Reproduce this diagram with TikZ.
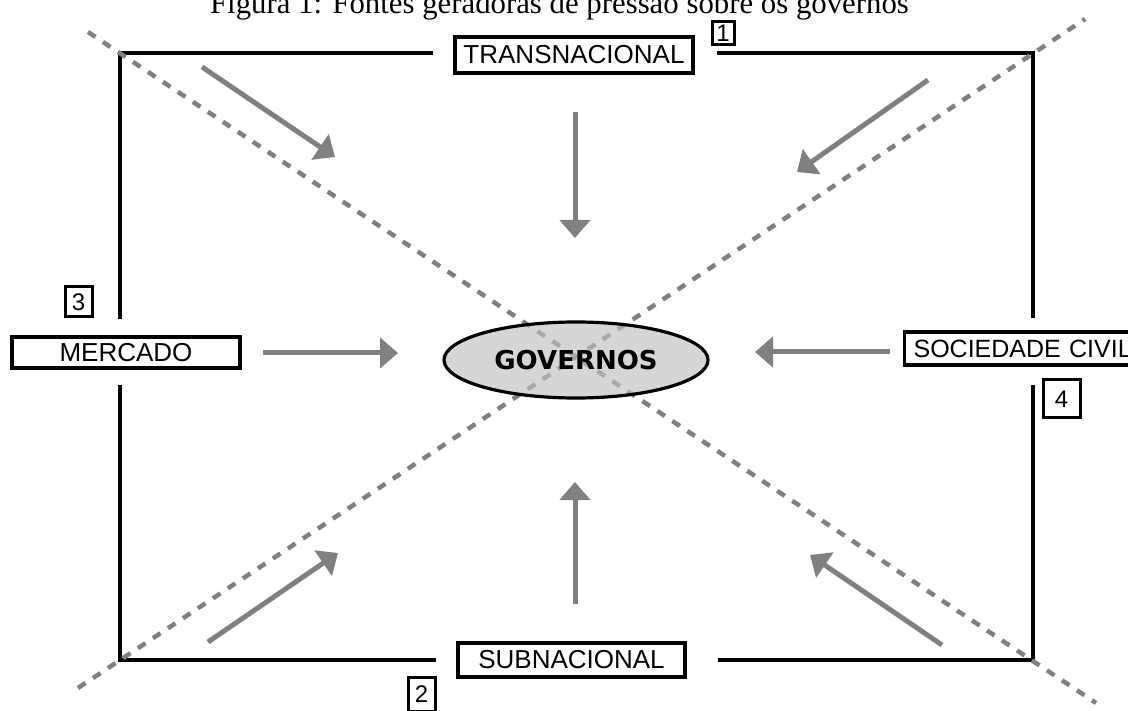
\documentclass[tikz,border=0pt]{standalone}
\usepackage{fontspec}
\setmainfont{Liberation Sans}
\newfontfamily\titlefont{Liberation Serif}
\newfontfamily\govfont{DejaVu Sans}
\usetikzlibrary{arrows.meta,shapes.geometric}
\definecolor{dgray}{RGB}{128,128,128}
\definecolor{agray}{RGB}{128,128,128}
\definecolor{efill}{RGB}{192,192,192}
\begin{document}
\begin{tikzpicture}[x=1pt,y=-1pt,
  frame/.style={line width=3.8pt, draw=black},
  diag/.style={line width=4.5pt, draw=dgray, dash pattern=on 9pt off 9pt},
  force/.style={line width=5pt, draw=agray, -{Triangle[length=18pt,width=30pt]}},
  lbl/.style={draw, line width=3.2pt, inner sep=0pt, fill=white, font=\fontsize{26}{26}\selectfont},
  num/.style={draw, line width=3pt, inner sep=0pt, fill=white, font=\fontsize{24}{24}\selectfont},
]
\useasboundingbox (0,0) rectangle (1128,711);
\clip (0,0) rectangle (1128,711);

% title (partly cut at the top)
\node[anchor=base, font=\titlefont\fontsize{30.8}{30.8}\selectfont, inner sep=0pt] (title) at (559.5,14) {Figura 1: Fontes geradoras de pressão sobre os governos};

% frame corners and gap ends
\coordinate (TL) at (120,53);
\coordinate (TR) at (1033,53);
\coordinate (BL) at (120,660);
\coordinate (BR) at (1033,660);
\coordinate (tA) at (433,53);
\coordinate (tB) at (717,53);
\coordinate (bA) at (436,660);
\coordinate (bB) at (718,660);
\coordinate (lA) at (120,319);
\coordinate (lB) at (120,385);
\coordinate (rA) at (1033,318);
\coordinate (rB) at (1033,385);

\draw[frame] (tA) -- (TL) -- (lA);
\draw[frame] (lB) -- (BL) -- (bA);
\draw[frame] (bB) -- (BR) -- (rB);
\draw[frame] (rA) -- (TR) -- (tB);

% dashed diagonals
\coordinate (d1s) at (88,32);
\coordinate (d1e) at (1096,703);
\coordinate (d2s) at (78,688);
\coordinate (d2e) at (1085,19);
\draw[diag] (d1s) -- (d1e);
\draw[diag] (d2s) -- (d2e);

% centre
\node[ellipse, draw, line width=3.2pt, fill=efill, fill opacity=0.65, text opacity=1,
      minimum width=264pt, minimum height=76pt, inner sep=0pt,
      font=\govfont\bfseries\fontsize{26}{26}\selectfont] (gov) at (576,360) {GOVERNOS};

% label boxes
\node[lbl, minimum width=238pt, minimum height=36pt] (trans) at (574,55) {TRANSNACIONAL};
\node[lbl, minimum width=227pt, minimum height=34pt] (sub) at (571.5,660) {SUBNACIONAL};
\node[lbl, minimum width=228pt, minimum height=31pt] (merc) at (126,352.5) {MERCADO};
\node[lbl, anchor=west, minimum width=224pt, minimum height=33pt, text width=215pt, inner xsep=9pt, align=left, font=\fontsize{25}{25}\selectfont] (soc) at (903,348.5) {\mbox{SOCIEDADE CIVIL}};

% number boxes
\node[num, minimum width=22pt, minimum height=23pt] (n1) at (723,33) {1};
\node[num, minimum width=27pt, minimum height=34pt] (n2) at (421.5,694) {2};
\node[num, minimum width=27pt, minimum height=30pt] (n3) at (78.5,302) {3};
\node[num, minimum width=37pt, minimum height=38pt] (n4) at (1061.5,399) {4};

% force arrows
\coordinate (aTs) at (575,112);  \coordinate (aTe) at (575,238);
\coordinate (aBs) at (575,604);  \coordinate (aBe) at (575,482);
\coordinate (aLs) at (263,353);  \coordinate (aLe) at (398,353);
\coordinate (aRs) at (890,352);  \coordinate (aRe) at (755,352);
\coordinate (aTLs) at (202,67);  \coordinate (aTLe) at (335,157);
\coordinate (aTRs) at (928,80);  \coordinate (aTRe) at (797,172);
\coordinate (aBLs) at (208,642); \coordinate (aBLe) at (338,553);
\coordinate (aBRs) at (942,645); \coordinate (aBRe) at (810,555);
\draw[force] (aTs) -- (aTe);
\draw[force] (aBs) -- (aBe);
\draw[force] (aLs) -- (aLe);
\draw[force] (aRs) -- (aRe);
\draw[force] (aTLs) -- (aTLe);
\draw[force] (aTRs) -- (aTRe);
\draw[force] (aBLs) -- (aBLe);
\draw[force] (aBRs) -- (aBRe);
\end{tikzpicture}
\end{document}
